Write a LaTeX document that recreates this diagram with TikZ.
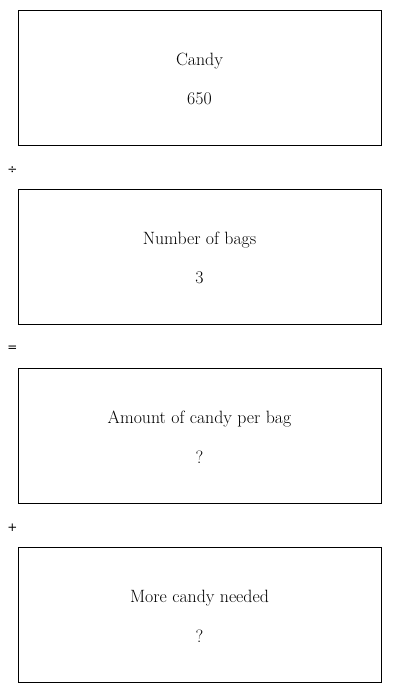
\documentclass[tikz,border=0pt]{standalone}
\usepackage{fontspec}
\newfontfamily\symfont{DejaVu Sans}
\begin{document}
\begin{tikzpicture}[x=1pt,y=-1pt,
  box/.style={draw=black,line width=0.8pt,minimum width=363pt,minimum height=135pt,inner sep=0pt},
  lbl/.style={font=\fontsize{17.8}{20}\selectfont,anchor=center},
  op/.style={font=\symfont\fontsize{12}{13}\selectfont,anchor=center}]
\useasboundingbox (0,0) rectangle (400,693);
\node[box] (b1) at (199.5,77.5) {};
\node[box] (b2) at (199.5,256.5) {};
\node[box] (b3) at (199.5,435.5) {};
\node[box] (b4) at (199.5,614.5) {};
\node[lbl] (t1) at (199.5,61) {Candy};
\node[lbl] (v1) at (199.5,99) {650};
\node[lbl] (t2) at (199.5,240) {Number of bags};
\node[lbl] (v2) at (199.5,278) {3};
\node[lbl] (t3) at (199.5,419) {Amount of candy per bag};
\node[lbl] (v3) at (199.5,457) {?};
\node[lbl] (t4) at (199.5,598) {More candy needed};
\node[lbl] (v4) at (199.5,636) {?};
\node[op] (o1) at (12.5,170) {÷};
\node[op] (o2) at (12.5,349) {=};
\node[op] (o3) at (12.5,528) {+};
\end{tikzpicture}
\end{document}
